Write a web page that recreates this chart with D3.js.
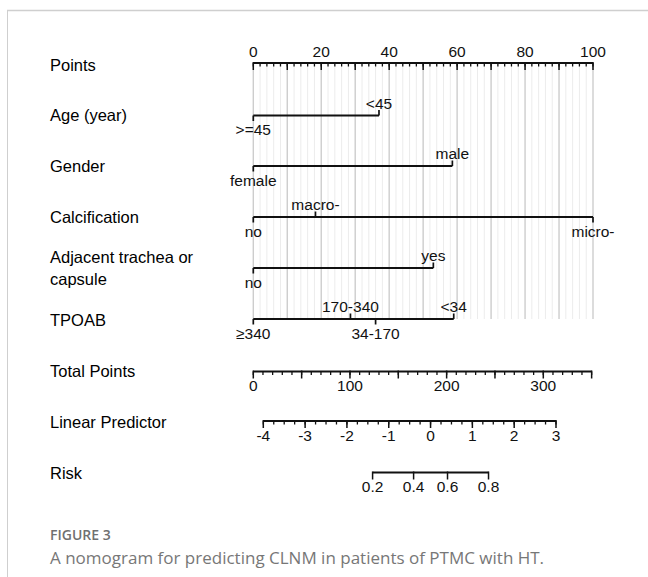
<!DOCTYPE html>
<html>
<head>
<meta charset="utf-8">
<script src="https://cdn.jsdelivr.net/npm/d3@7"></script>
<style>
  body { margin: 0; background: #fff; }
  svg { display: block; }
</style>
</head>
<body>
<div id="chart"></div>
<script>
// nomogram data
const rowLabels = ["Points", "Age (year)", "Gender", "Calcification", "Adjacent trachea or|capsule", "TPOAB", "Total Points", "Linear Predictor", "Risk"];

const ageLevels = [">=45", "<45"];
const agePoints = [0, 37];
const genderLevels = ["female", "male"];
const genderPoints = [0, 58.6];
const calcLevels = ["no", "macro-", "micro-"];
const calcPoints = [0, 18.3, 100];
const adjLevels = ["no", "yes"];
const adjPoints = [0, 53];
const tpoabLevels = ["≥340", "170-340", "34-170", "<34"];
const tpoabPoints = [0, 28.6, 36, 59];
// label side: 1 = below, -1 = above
const ageSide = [1, -1];
const genderSide = [1, -1];
const calcSide = [1, -1, 1];
const adjSide = [1, -1];
const tpoabSide = [1, -1, 1, -1];

const pointsTicks = [0, 20, 40, 60, 80, 100];
const totalTicks = [0, 100, 200, 300];
const totalMax = 350;
const lpTicks = [-4, -3, -2, -1, 0, 1, 2, 3];
const riskTicks = [0.2, 0.4, 0.6, 0.8];

const W = 648, H = 577;
const svg = d3.select("#chart").append("svg")
  .attr("width", W).attr("height", H);

// frame
svg.append("line").attr("x1", 7).attr("x2", W).attr("y1", 10.5).attr("y2", 10.5)
  .attr("stroke", "#cfcfcf").attr("stroke-width", 1.5);
svg.append("line").attr("x1", 7.5).attr("x2", 7.5).attr("y1", 10).attr("y2", H)
  .attr("stroke", "#cfcfcf").attr("stroke-width", 1);

const font = "'Liberation Sans', Arial, sans-serif";
const x = d3.scaleLinear().domain([0, 100]).range([253.3, 593]);
const xTotal = d3.scaleLinear().domain([0, 300]).range([253.3, 543.3]);
const xLp = d3.scaleLinear().domain([-4, 3]).range([263.3, 556]);
const logit = p => Math.log(p / (1 - p));

const rowY = [63, 115.5, 166, 217, 268, 319, 371.5, 421, 472.5];
const labelY = [65, 115, 166, 217, 257, 320, 371, 422, 473];

// grid
const gridVals = d3.range(0, 101, 2);
svg.append("g").selectAll("line").data(gridVals).join("line")
  .attr("x1", d => x(d)).attr("x2", d => x(d))
  .attr("y1", rowY[0]).attr("y2", rowY[5])
  .attr("stroke", d => d % 10 === 0 ? "#cdcdcd" : "#ececec")
  .attr("stroke-width", d => d % 10 === 0 ? 1.4 : 1);

// left labels
rowLabels.forEach((lab, i) => {
  const parts = lab.split("|");
  parts.forEach((p, j) => {
    svg.append("text")
      .attr("x", 50).attr("y", labelY[i] + j * 22.5)
      .attr("dy", "0.35em")
      .style("font-family", font).style("font-size", "16.5px").style("fill", "#000")
      .text(p);
  });
});

const stroke = "#111";
const tickFont = "15.5px";

function drawAxis(scale, y, minorVals, majorVals, labelVals, labelFmt, labelAbove) {
  const g = svg.append("g");
  const ends = d3.extent(minorVals.concat(majorVals));
  g.append("line").attr("x1", scale(ends[0])).attr("x2", scale(ends[1]))
    .attr("y1", y).attr("y2", y).attr("stroke", stroke).attr("stroke-width", 2);
  g.selectAll(".mn").data(minorVals).join("line")
    .attr("x1", d => scale(d)).attr("x2", d => scale(d))
    .attr("y1", y).attr("y2", y + 3.5).attr("stroke", stroke).attr("stroke-width", 1.3);
  g.selectAll(".mj").data(majorVals).join("line")
    .attr("x1", d => scale(d)).attr("x2", d => scale(d))
    .attr("y1", y - 1).attr("y2", y + 7).attr("stroke", stroke).attr("stroke-width", 1.5);
  g.selectAll("text").data(labelVals).join("text")
    .attr("x", d => scale(d)).attr("y", labelAbove ? y - 11.5 : y + 14.5)
    .attr("dy", "0.35em").attr("text-anchor", "middle")
    .style("font-family", font).style("font-size", tickFont).style("fill", "#111")
    .text(labelFmt);
}

// Points axis
drawAxis(x, rowY[0], d3.range(0, 101, 2), d3.range(0, 101, 10), pointsTicks, d => d, true);
// Total points
drawAxis(xTotal, rowY[6], d3.range(0, totalMax + 1, 10), d3.range(0, totalMax + 1, 50), totalTicks, d => d, false);
// Linear predictor
drawAxis(xLp, rowY[7], d3.range(-4, 3.01, 0.25), lpTicks, lpTicks, d => d, false);
// Risk
const xRisk = p => xLp(logit(p));
drawAxis(xRisk, rowY[8], [], riskTicks, riskTicks, d => d, false);

// variable rows
function drawVar(levels, pts, sides, y) {
  const g = svg.append("g");
  g.append("line").attr("x1", x(d3.min(pts))).attr("x2", x(d3.max(pts)))
    .attr("y1", y).attr("y2", y).attr("stroke", stroke).attr("stroke-width", 2);
  pts.forEach((p, i) => {
    const s = sides[i];
    g.append("line").attr("x1", x(p)).attr("x2", x(p))
      .attr("y1", y).attr("y2", y + s * 5.5).attr("stroke", stroke).attr("stroke-width", 1.7);
    g.append("text").attr("x", x(p)).attr("y", s > 0 ? y + 14.5 : y - 12)
      .attr("dy", "0.35em").attr("text-anchor", "middle")
      .style("font-family", font).style("font-size", tickFont).style("fill", "#111")
      .text(levels[i]);
  });
}

drawVar(ageLevels, agePoints, ageSide, rowY[1]);
drawVar(genderLevels, genderPoints, genderSide, rowY[2]);
drawVar(calcLevels, calcPoints, calcSide, rowY[3]);
drawVar(adjLevels, adjPoints, adjSide, rowY[4]);
drawVar(tpoabLevels, tpoabPoints, tpoabSide, rowY[5]);

// caption
svg.append("text").attr("x", 50).attr("y", 540)
  .style("font-family", "'Open Sans', sans-serif").style("font-size", "14px")
  .style("font-weight", 600).style("fill", "#707070")
  .text("FIGURE 3");
svg.append("text").attr("x", 50).attr("y", 564)
  .style("font-family", "'Open Sans', sans-serif").style("font-size", "17px")
  .style("font-weight", 400).style("fill", "#777")
  .text("A nomogram for predicting CLNM in patients of PTMC with HT.");
</script>
</body>
</html>
